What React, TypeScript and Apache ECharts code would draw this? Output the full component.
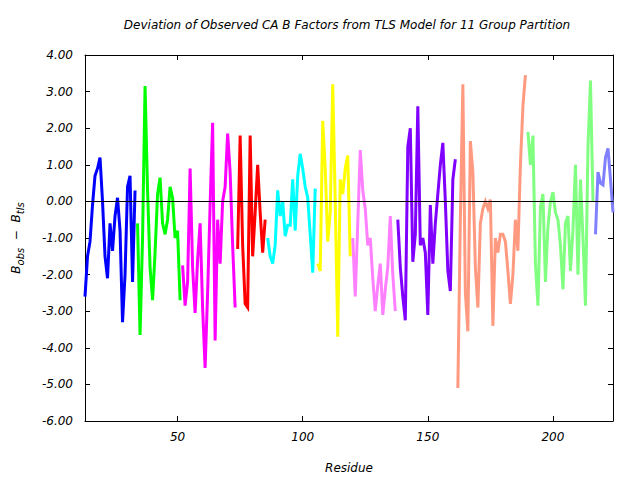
import React, { useEffect, useRef } from "react";
import * as echarts from "echarts";

// Residue numbers of the first residue of each TLS group
const groupStarts = [13, 34, 52, 74, 86, 106, 120, 138, 162, 190, 217];
const groupColors = [
  "#0000ff", "#00ff00", "#ff00ff", "#ff0000", "#00ffff", "#ffff00",
  "#ff80ff", "#8000ff", "#ff9a80", "#80ff80", "#8080ff",
];

// Deviation values (B_obs - B_tls), one per residue, per group
const group1 = [-2.6, -1.5, -1.1, -0.1, 0.7, 0.9, 1.2, 0.0, -1.5, -2.1, -0.6, -1.35, -0.4, 0.1, -0.8, -3.3, -2.0, 0.4, 0.7, -2.2, 0.3];
const group2 = [-0.6, -3.65, -1.0, 3.15, 0.3, -1.8, -2.7, -1.4, 0.2, 0.65, -0.6, -0.9, -0.5, 0.4, 0.1, -1.0, -0.8, -2.7];
const group3 = [-1.75, -2.85, -2.2, 0.9, -1.8, -3.05, -1.6, -0.6, -2.9, -4.55, -2.5, -0.1, 2.15, -3.8, -0.5, -1.7, 0.0, 0.4, 1.85, 0.8, -1.2, -2.9];
const group4 = [-1.3, 1.8, -1.2, -2.8, -2.9, 1.8, -1.5, -0.3, 1.0, -0.3, -1.4, -0.5];
const group5 = [-1.0, -1.5, -1.7, -1.2, 0.3, -0.4, 0.0, -0.95, -0.65, -0.65, 0.6, -0.8, 0.7, 1.3, 0.9, 0.4, 0.1, -0.9, -1.95, 0.35];
const group6 = [-1.7, -1.9, 2.2, 0.9, -1.1, -0.3, 3.2, 0.0, -3.7, 0.6, 0.2, 0.9, 1.25, -1.5];
const group7 = [-1.0, -2.6, -0.6, 1.4, 0.3, -0.2, -1.2, -1.0, -2.1, -3.0, -2.3, -1.7, -3.1, -2.4, -1.8, -0.4, -2.0, -3.0];
const group8 = [-0.5, -1.8, -2.6, -3.25, 1.5, 2.0, -1.65, -0.9, 2.6, -1.2, -1.0, -1.4, -3.1, -0.1, -1.7, -0.6, 0.2, 1.0, 1.6, 0.0, -1.9, -2.45, 0.6, 1.15];
const group9 = [-5.1, -0.5, 3.2, -2.5, -3.55, 1.65, 0.8, -1.8, -2.9, -0.6, -0.2, 0.0, -0.2, 0.05, -3.4, -1.0, -1.4, -0.9, -0.9, -1.1, -1.9, -2.8, -2.0, -0.5, -1.35, 1.0, 2.6, 3.45];
const group10 = [1.9, 1.0, 1.8, -1.7, -2.85, -0.15, 0.2, -2.2, -0.7, 0.0, 0.25, -0.3, -0.5, -1.2, -2.4, -0.6, -0.4, -1.9, -0.8, 1.0, -2.0, 0.6, -1.0, -2.85, 1.5, 3.3, 0.0];
const group11 = [-0.9, 0.8, 0.5, 0.45, 1.2, 1.45, 0.6, -0.3];

const groups = [group1, group2, group3, group4, group5, group6, group7, group8, group9, group10, group11];

const xTicks = [50, 100, 150, 200];
const xMin = 13;
const xMax = 224;
const yMin = -6;
const yMax = 4;

const FONT = "DejaVu Sans";

export default function App() {
  const ref = useRef<HTMLDivElement>(null);

  useEffect(() => {
    if (!ref.current) return;
    const chart = echarts.init(ref.current, null, { renderer: "svg" });

    const series: any[] = groups.map((vals, gi) => ({
      type: "line",
      name: "group" + (gi + 1),
      xAxisIndex: 0,
      yAxisIndex: 0,
      data: vals.map((v, i) => [groupStarts[gi] + i, v]),
      showSymbol: false,
      symbol: "none",
      lineStyle: { color: groupColors[gi], width: 3, join: "miter" },
      itemStyle: { color: groupColors[gi] },
      z: 3,
    }));

    series.push({
      type: "line",
      name: "zero",
      xAxisIndex: 0,
      yAxisIndex: 0,
      data: [],
      markLine: {
        silent: true,
        symbol: "none",
        label: { show: false },
        lineStyle: { color: "#000", width: 1, type: "solid" },
        data: [{ yAxis: 0 }],
      },
      z: 2,
    });

    const labelStyle = {
      fontFamily: FONT,
      fontStyle: "italic" as const,
      fontSize: 12,
      color: "#000",
    };

    const commonX = {
      type: "value",
      min: xMin,
      max: xMax,
      splitLine: { show: false },
      axisLine: { show: true, onZero: false, lineStyle: { color: "#000", width: 1 } },
      axisTick: {
        show: true,
        inside: true,
        length: 5,
        customValues: xTicks,
        lineStyle: { color: "#000", width: 1 },
      },
    };

    const commonY = {
      type: "value",
      min: yMin,
      max: yMax,
      interval: 1,
      splitLine: { show: false },
      axisLine: { show: true, onZero: false, lineStyle: { color: "#000", width: 1 } },
      axisTick: { show: true, inside: true, length: 5, lineStyle: { color: "#000", width: 1 } },
    };

    chart.setOption({
      animation: false,
      backgroundColor: "#fff",
      grid: { left: 85, right: 27, top: 55, bottom: 59, containLabel: false },
      graphic: [
        {
          type: "text",
          x: 347,
          y: 25,
          style: {
            text: "Deviation of Observed CA B Factors from TLS Model for 11 Group Partition",
            fontFamily: FONT,
            fontStyle: "italic",
            fontSize: 12,
            fill: "#000",
            align: "center",
            verticalAlign: "middle",
            textAlign: "center",
            textVerticalAlign: "middle",
          },
        },
      ],
      xAxis: [
        {
          ...commonX,
          position: "bottom",
          axisLabel: { ...labelStyle, customValues: xTicks, margin: 10 },
          name: "Residue",
          nameLocation: "middle",
          nameGap: 41,
          nameTextStyle: { ...labelStyle },
        },
        {
          ...commonX,
          position: "top",
          axisLabel: { show: false },
        },
      ],
      yAxis: [
        {
          ...commonY,
          position: "left",
          axisLabel: {
            ...labelStyle,
            margin: 12,
            formatter: (v: number) => v.toFixed(2),
          },
          name: "{i|B}{s|obs}{i|  \u2212  B}{s|tls}",
          nameLocation: "middle",
          nameRotate: 90,
          nameGap: 60,
          nameTextStyle: {
            rich: {
              i: { fontFamily: FONT, fontStyle: "italic", fontSize: 12, lineHeight: 18, color: "#000" },
              s: { fontFamily: FONT, fontStyle: "italic", fontSize: 10, lineHeight: 10, verticalAlign: "bottom", color: "#000" },
            },
          },
        },
        {
          ...commonY,
          position: "right",
          axisLabel: { show: false },
        },
      ],
      series,
    });

    return () => {
      chart.dispose();
    };
  }, []);

  return (
    <div
      ref={ref}
      style={{ position: "fixed", left: 0, top: 0, width: 640, height: 480, background: "#fff" }}
    />
  );
}
